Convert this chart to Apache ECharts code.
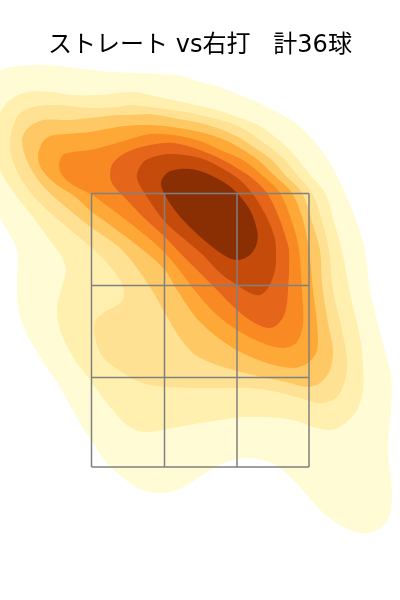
<!DOCTYPE html>
<html lang="ja">
  <head>
    <meta charset="UTF-8" />
    <title>ストレート vs右打 計36球</title>
    <script src="https://cdn.jsdelivr.net/npm/echarts@6/dist/echarts.min.js"></script>
    <style>
      html, body { margin: 0; padding: 0; background: #fff; }
    </style>
  </head>
  <body>
    <div id="chart" style="width: 400px; height: 600px"></div>
    <script>
      const titleText = "ストレート vs右打   計36球";

      // density contours, outermost first, [x, y] on the hidden axes
      const contour1 = [[-15,95],[0,71],[33,65],[67,67],[100,71],[133,73],[177,75],[200,82],[220,87],[240,95],[267,107],[298,125],[325,155],[345,193],[356,220],[365,250],[370,290],[380,333],[390,370],[392,392],[390,423],[388,450],[392,493],[388,520],[373,532],[360,533],[340,525],[320,510],[300,487],[280,468],[263,460],[247,458],[227,462],[207,472],[187,485],[173,491],[158,493],[140,489],[123,478],[107,463],[93,443],[80,423],[67,400],[60,387],[40,357],[25,330],[18,307],[17,277],[17,250],[0,217],[-15,170]];
      const contour2 = [[-10,135],[0,113],[10,100],[27,92],[50,92],[73,95],[100,95],[130,92],[150,95],[173,100],[200,106],[220,111],[240,118],[258,125],[280,141],[297,158],[310,175],[325,193],[335,225],[342,250],[350,293],[360,337],[363,363],[363,390],[357,410],[343,425],[330,430],[313,427],[293,420],[267,417],[243,417],[220,420],[200,423],[173,428],[143,432],[127,425],[110,407],[90,380],[73,357],[60,330],[57,307],[62,287],[66,270],[62,257],[57,250],[33,217],[17,197],[0,170]];
      const contour3 = [[10,147],[17,117],[33,107],[57,105],[90,108],[117,107],[130,105],[150,107],[173,110],[200,115],[220,120],[238,126],[260,140],[283,158],[297,175],[312,193],[323,225],[329,250],[333,290],[342,330],[347,360],[345,380],[337,397],[320,403],[300,398],[277,392],[250,388],[220,388],[200,388],[167,387],[143,383],[123,373],[103,357],[95,337],[95,322],[103,313],[120,303],[124,293],[120,280],[107,263],[92,248],[67,227],[40,203],[20,177]];
      const contour4 = [[22,140],[28,128],[43,120],[67,120],[90,118],[117,115],[130,115],[150,114],[173,118],[200,123],[220,129],[240,138],[255,148],[272,160],[285,175],[302,193],[313,225],[320,250],[322,283],[328,323],[333,350],[330,370],[320,383],[307,387],[290,383],[267,378],[233,370],[200,358],[187,347],[173,327],[150,287],[122,250],[92,228],[67,208],[43,186],[28,163]];
      const contour5 = [[38,157],[42,143],[50,136],[67,134],[90,132],[117,127],[140,125],[165,126],[200,132],[225,140],[240,148],[258,160],[275,176],[292,193],[303,220],[309,250],[313,290],[317,323],[317,350],[308,363],[293,368],[267,363],[233,348],[200,322],[177,290],[165,270],[143,250],[110,225],[92,212],[73,195],[57,185],[42,170]];
      const contour6 = [[59,165],[63,155],[73,152],[90,150],[110,145],[127,140],[150,134],[173,135],[200,141],[225,152],[243,160],[263,176],[280,193],[293,225],[299,250],[302,290],[303,323],[297,342],[283,348],[260,342],[237,330],[217,315],[200,297],[165,253],[130,223],[110,208],[92,195],[73,185],[62,175]];
      const contour7 = [[110,175],[113,163],[127,152],[150,145],[173,143],[200,150],[225,161],[240,170],[252,178],[267,193],[278,215],[285,235],[289,250],[288,290],[285,313],[277,325],[268,328],[253,322],[237,310],[217,290],[200,273],[180,253],[165,237],[143,217],[127,200],[113,185]];
      const contour8 = [[137,178],[141,165],[150,158],[170,154],[200,158],[225,170],[240,180],[252,193],[264,212],[274,235],[276,250],[275,270],[268,288],[260,295],[250,293],[237,285],[220,273],[203,255],[183,238],[165,222],[147,197]];
      const contour9 = [[161,183],[167,173],[180,169],[200,171],[225,183],[237,193],[250,210],[257,230],[257,243],[250,255],[238,260],[227,257],[210,245],[193,230],[177,213],[165,195]];

      const contours = [contour1, contour2, contour3, contour4, contour5, contour6, contour7, contour8, contour9];
      const levelColors = ["#fffbd5", "#fff0b0", "#fee192", "#fec965", "#fea937", "#f98a23", "#e5661a", "#c44b0a", "#8a2e04"];

      // strike zone grid lines
      const zoneX = [91.5, 164.5, 237, 309];
      const zoneY = [193.5, 285.5, 377.5, 467];

      const gridLines = [];
      zoneX.forEach((x) => {
        gridLines.push([x, zoneY[0]], [x, zoneY[3]], [null, null]);
      });
      zoneY.forEach((y) => {
        gridLines.push([zoneX[0], y], [zoneX[3], y], [null, null]);
      });

      var chart = echarts.init(document.getElementById("chart"));

      chart.setOption({
        animation: false,
        backgroundColor: "#fff",
        title: {
          text: titleText,
          left: "center",
          top: 29,
          textStyle: {
            fontFamily: "'DejaVu Sans', 'Noto Sans CJK JP'",
            fontSize: 24,
            fontWeight: "normal",
            color: "#000",
          },
        },
        grid: { left: 0, right: 0, top: 0, bottom: 0 },
        xAxis: { type: "value", min: 0, max: 400, show: false },
        yAxis: { type: "value", min: 0, max: 600, inverse: true, show: false },
        series: [
          {
            type: "custom",
            clip: false,
            silent: true,
            data: contours.map((c, i) => [i]),
            renderItem: function (params, api) {
              const i = api.value(0);
              return {
                type: "polygon",
                shape: {
                  points: contours[i].map((p) => api.coord(p)),
                  smooth: 0.33,
                },
                style: { fill: levelColors[i], stroke: null },
              };
            },
          },
          {
            type: "line",
            silent: true,
            data: gridLines,
            connectNulls: false,
            showSymbol: false,
            lineStyle: { color: "#808080", width: 1.5 },
            z: 5,
          },
        ],
      });
    </script>
  </body>
</html>
